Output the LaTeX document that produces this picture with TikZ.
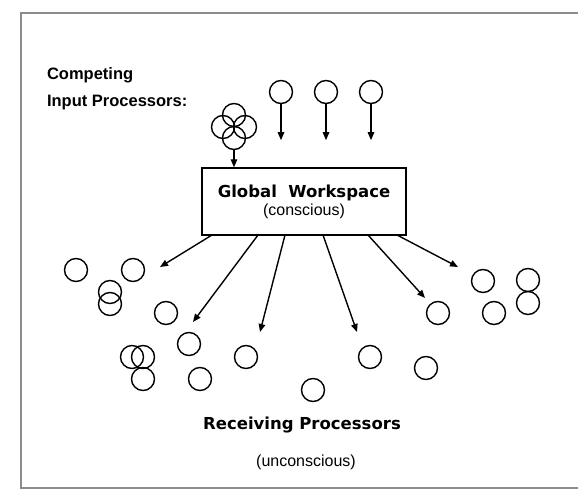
\documentclass[tikz,border=0pt]{standalone}
\usepackage{fontspec}
\setmainfont{Liberation Sans}
\newfontfamily\blockfont{DejaVu Sans}
\usetikzlibrary{arrows.meta}
\begin{document}
\begin{tikzpicture}[
		x=1pt, y=-1pt,
		line width=1.4pt,
		proc/.style={circle,draw,minimum size=23pt,inner sep=0pt},
		feed/.style={-{Triangle[length=8pt,width=6.5pt]}},
		title/.style={font=\blockfont\bfseries\fontsize{16.5}{20}\selectfont},
		plain/.style={font=\fontsize{16}{20}\selectfont},
		frame/.style={line width=2pt,black!45}
	]
	\useasboundingbox (0,0) rectangle (578,497);
	\draw[frame] (21,13) -- (578,13);
	\draw[frame] (21,12) -- (21,489);
	\draw[frame] (21,488) -- (578,488);

	\node[anchor=west,font=\bfseries\fontsize{16.5}{20}\selectfont] (cmp) at (43,75) {Competing};
	\node[anchor=west,font=\bfseries\fontsize{16.5}{20}\selectfont] (inp) at (43,103) {Input Processors:};

	\node[proc] (in1) at (281,92) {};
	\node[proc] (in2) at (326,92) {};
	\node[proc] (in3) at (371,92) {};
	\node[proc] (c1) at (234,115) {};
	\node[proc] (c2) at (223,127) {};
	\node[proc] (c3) at (245,127) {};
	\node[proc] (c4) at (234,138) {};

	\node[draw,minimum width=204pt,minimum height=67pt,align=center] (gw) at (304,201.5)
		{{\blockfont\bfseries\fontsize{16.5}{20}\selectfont Global\ \ Workspace}\\[2pt]
		 {\fontsize{16}{20}\selectfont (conscious)}};

	\foreach \i in {1,2,3}
		\coordinate (a\i) at ([yshift=-36pt]in\i.south);
	\foreach \i in {1,2,3}
		\draw[feed] (in\i.south) -- (a\i);
	\draw[feed] (c4.south) -- (c4.south |- gw.north);

	\node[proc] (r1) at (76,270) {};
	\node[proc] (r2) at (133,270) {};
	\node[proc] (r3) at (110,292) {};
	\node[proc] (r4) at (110,304) {};
	\node[proc] (r5) at (166,313) {};
	\node[proc] (r6) at (189,344) {};
	\node[proc] (r7) at (132,357) {};
	\node[proc] (r8) at (143,357) {};
	\node[proc] (r9) at (143,379) {};
	\node[proc] (r10) at (200,379) {};
	\node[proc] (r11) at (246,357) {};
	\node[proc] (r12) at (313,390) {};
	\node[proc] (r13) at (370,357) {};
	\node[proc] (r14) at (426,368) {};
	\node[proc] (r15) at (438,313) {};
	\node[proc] (r16) at (483,281) {};
	\node[proc] (r17) at (494,313) {};
	\node[proc] (r18) at (528,280) {};
	\node[proc] (r19) at (528,303) {};

	\coordinate (s1) at (212,235);
	\coordinate (s2) at (258,235);
	\coordinate (s3) at (285,235);
	\coordinate (s4) at (323,235);
	\coordinate (s5) at (368,235);
	\coordinate (s6) at (397,235);
	\coordinate (t1) at (160,267);
	\coordinate (t2) at (193,322);
	\coordinate (t3) at (260,332);
	\coordinate (t4) at (357,332);
	\coordinate (t5) at (425,298);
	\coordinate (t6) at (458,267);
	\foreach \i in {1,...,6}
		\draw[feed] (s\i) -- (t\i);

	\node[title] (rcv) at (302,425) {Receiving Processors};
	\node[plain] (unc) at (306,462) {(unconscious)};
\end{tikzpicture}
\end{document}
